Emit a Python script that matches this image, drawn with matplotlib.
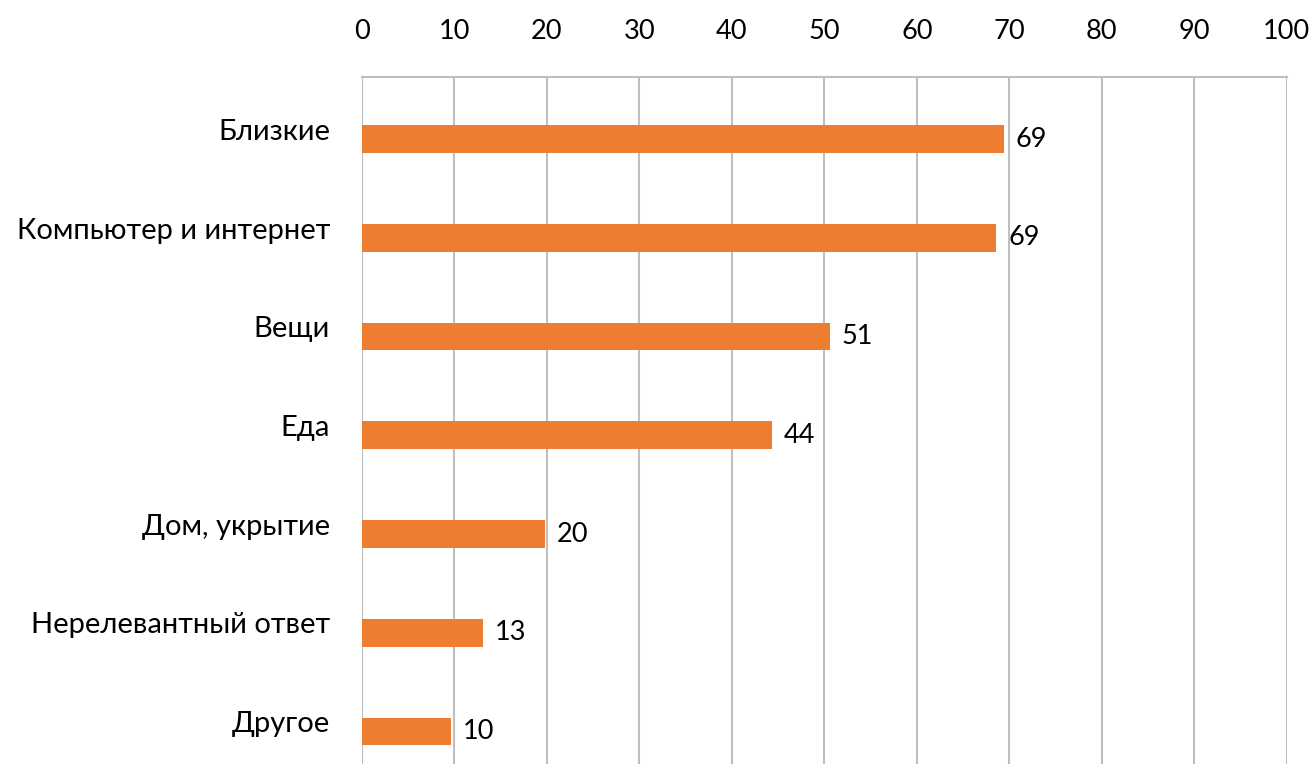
import matplotlib
matplotlib.use("Agg")
import matplotlib.pyplot as plt
from matplotlib import font_manager

categories = ["Близкие", "Компьютер и интернет", "Вещи", "Еда",
              "Дом, укрытие", "Нерелевантный ответ", "Другое"]
values = [69.4, 68.6, 50.6, 44.3, 19.8, 13.1, 9.6]
value_labels = ["69", "69", "51", "44", "20", "13", "10"]
xticks = [0, 10, 20, 30, 40, 50, 60, 70, 80, 90, 100]

names = {f.name for f in font_manager.fontManager.ttflist}
fam = "Lato" if "Lato" in names else "DejaVu Sans"
plt.rcParams['font.family'] = [fam, 'DejaVu Sans']

fig = plt.figure(figsize=(13.11, 7.64), dpi=100)
ax = fig.add_axes([362/1311, 0.0, (1286.7-362)/1311, 1-77/764])

bar_color = "#ED7D31"
grid_color = "#BFBFBF"
offset = 0.1
ypos = [i + offset for i in range(len(categories))]
ax.barh(ypos, values, height=0.28, color=bar_color, zorder=3)

for y, v, lab in zip(ypos, values, value_labels):
    ax.text(v + 1.3, y, lab, va="center", ha="left", fontsize=19.5, color="black")

ax.set_xlim(0, 100)
ax.set_ylim(6.33 + offset, -0.53)
ax.set_xticks(xticks)
ax.xaxis.tick_top()
ax.tick_params(axis="x", length=0, pad=24, labelsize=19.5, labelcolor="black")
ax.set_yticks(range(len(categories)))
ax.set_yticklabels(categories, fontsize=21)
ax.tick_params(axis="y", length=0, pad=23, labelcolor="black")

ax.grid(axis="x", color=grid_color, linewidth=1.5, zorder=0)
for s in ["left", "right", "bottom"]:
    ax.spines[s].set_visible(False)
ax.spines["top"].set_color(grid_color)
ax.spines["top"].set_linewidth(1.5)

fig.savefig("out.png", dpi=100)
